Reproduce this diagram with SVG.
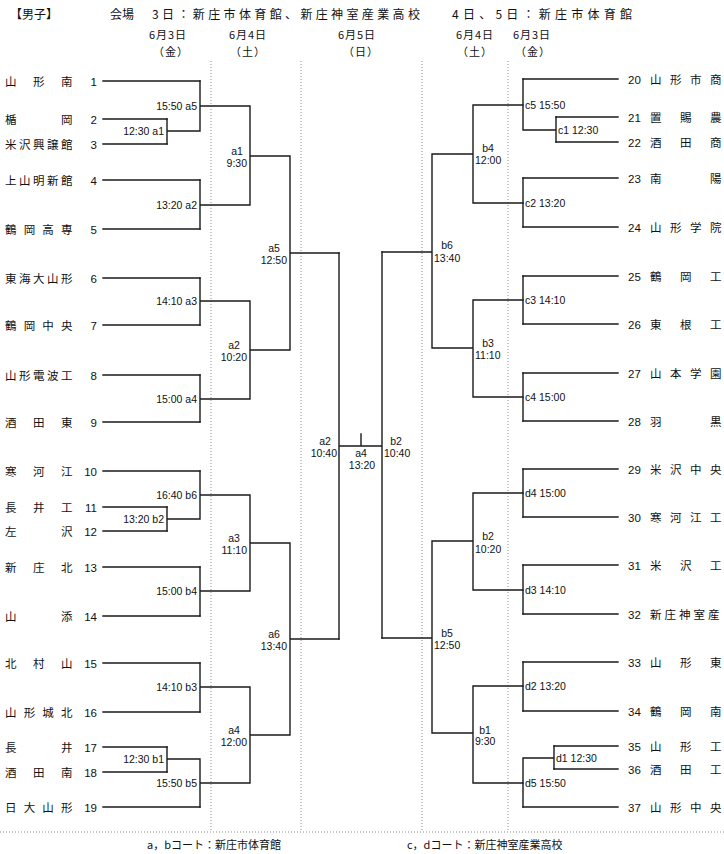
<svg xmlns="http://www.w3.org/2000/svg" width="724" height="854" viewBox="0 0 724 854">
<style>
.bg{fill:#fff}
.ln{stroke:#1a1a1a;stroke-width:1.4;fill:none;stroke-linecap:square}
.dt{stroke:#8a8a8a;stroke-width:1;stroke-dasharray:1 2;fill:none}
.nm{font-family:"Noto Sans CJK JP","Noto Sans CJK SC",sans-serif;font-size:11.5px;fill:#111}
.no{font-family:"Liberation Sans",sans-serif;font-size:11.5px;fill:#111}
.lb{font-family:"Liberation Sans",sans-serif;font-size:10.5px;fill:#111}
.hd{font-family:"Noto Sans CJK JP","Noto Sans CJK SC",sans-serif;font-size:12px;fill:#111}
.dd{font-family:"Noto Sans CJK JP","Noto Sans CJK SC",sans-serif;font-size:11px;letter-spacing:1px;fill:#111;text-anchor:middle}
.e{text-anchor:end}
.m{text-anchor:middle}
</style>
<rect class="bg" x="0" y="0" width="724" height="854"/>

<g id="header">
<text class="hd" x="10" y="19">【男子】</text>
<text class="hd" x="110" y="19">会場</text>
<text class="hd" x="152" y="19" textLength="268" lengthAdjust="spacing">3日：新庄市体育館、新庄神室産業高校</text>
<text class="hd" x="452" y="19" textLength="180" lengthAdjust="spacing">4日、5日：新庄市体育館</text>
<text class="dd" x="168" y="39">6月3日</text>
<text class="dd" x="171" y="55.5">（金）</text>
<text class="dd" x="248" y="39">6月4日</text>
<text class="dd" x="248" y="55.5">（土）</text>
<text class="dd" x="357" y="39">6月5日</text>
<text class="dd" x="361" y="55.5">（日）</text>
<text class="dd" x="475" y="39">6月4日</text>
<text class="dd" x="475" y="55.5">（土）</text>
<text class="dd" x="532" y="39">6月3日</text>
<text class="dd" x="533" y="55.5">（金）</text>
</g>

<g id="guides">
<path class="dt" d="M211 61V832M301 61V832M422 61V832M508 61V832M0 832H724"/>
</g>

<g id="connectors">
<path class="ln" d="M103 81H200M103 119H167M103 144H167M103 180H200M103 229H200M103 278H200M103 325H200M103 375H200M103 422H200M103 471H200M103 507H167M103 531H167M103 567H200M103 616H200M103 663H200M103 712H200M103 747H167M103 772H167M103 807H200"/>
<path class="ln" d="M167 119V144M167 131H200M200 81V131M200 106H250M200 180V229M200 205H250M250 106V205M250 156H290M200 278V325M200 301H250M200 375V422M200 399H250M250 301V399M250 350H290M290 156V350M290 253H339"/>
<path class="ln" d="M167 507V531M167 519H200M200 471V519M200 495H250M200 567V616M200 591H250M250 495V591M250 543H290M200 663V712M200 687H250M167 747V772M167 759H200M200 759V807M200 783H250M250 687V783M250 735H290M290 543V735M290 639H339"/>
<path class="ln" d="M339 253V639M339 446H382M361 434V446M382 252V638"/>
<path class="ln" d="M382 252H432M382 638H432M432 154V348M432 541V733M432 154H473M432 348H473M432 541H473M432 733H473M473 105V203M473 300V397M473 493V590M473 686V783M473 105H523M473 203H523M473 300H523M473 397H523M473 493H523M473 590H523M473 686H523M473 783H523"/>
<path class="ln" d="M523 79V130M523 178V227M523 276V324M523 373V421M523 469V517M523 565V614M523 662V711M523 758V807M523 130H556M556 117V142M523 758H554M554 746V769"/>
<path class="ln" d="M523 79H618M556 117H618M556 142H618M523 178H618M523 227H618M523 276H618M523 324H618M523 373H618M523 421H618M523 469H618M523 517H618M523 565H618M523 614H618M523 662H618M523 711H618M554 746H618M554 769H618M523 807H618"/>
</g>

<g id="team-1"><text class="nm" x="5 33 61" y="85.5">山形南</text><text class="no e" x="97" y="85.5">1</text></g>
<g id="team-2"><text class="nm" x="5 61" y="123.5">楯岡</text><text class="no e" x="97" y="123.5">2</text></g>
<g id="team-3"><text class="nm" x="5 19 33 47 61" y="148.5">米沢興譲館</text><text class="no e" x="97" y="148.5">3</text></g>
<g id="team-4"><text class="nm" x="5 19 33 47 61" y="184.5">上山明新館</text><text class="no e" x="97" y="184.5">4</text></g>
<g id="team-5"><text class="nm" x="5 23.7 42.3 61" y="233.5">鶴岡高専</text><text class="no e" x="97" y="233.5">5</text></g>
<g id="team-6"><text class="nm" x="5 19 33 47 61" y="282.5">東海大山形</text><text class="no e" x="97" y="282.5">6</text></g>
<g id="team-7"><text class="nm" x="5 23.7 42.3 61" y="329.5">鶴岡中央</text><text class="no e" x="97" y="329.5">7</text></g>
<g id="team-8"><text class="nm" x="5 19 33 47 61" y="379.5">山形電波工</text><text class="no e" x="97" y="379.5">8</text></g>
<g id="team-9"><text class="nm" x="5 33 61" y="426.5">酒田東</text><text class="no e" x="97" y="426.5">9</text></g>
<g id="team-10"><text class="nm" x="5 33 61" y="475.5">寒河江</text><text class="no e" x="97" y="475.5">10</text></g>
<g id="team-11"><text class="nm" x="5 33 61" y="511.5">長井工</text><text class="no e" x="97" y="511.5">11</text></g>
<g id="team-12"><text class="nm" x="5 61" y="535.5">左沢</text><text class="no e" x="97" y="535.5">12</text></g>
<g id="team-13"><text class="nm" x="5 33 61" y="571.5">新庄北</text><text class="no e" x="97" y="571.5">13</text></g>
<g id="team-14"><text class="nm" x="5 61" y="620.5">山添</text><text class="no e" x="97" y="620.5">14</text></g>
<g id="team-15"><text class="nm" x="5 33 61" y="667.5">北村山</text><text class="no e" x="97" y="667.5">15</text></g>
<g id="team-16"><text class="nm" x="5 23.7 42.3 61" y="716.5">山形城北</text><text class="no e" x="97" y="716.5">16</text></g>
<g id="team-17"><text class="nm" x="5 61" y="751.5">長井</text><text class="no e" x="97" y="751.5">17</text></g>
<g id="team-18"><text class="nm" x="5 33 61" y="776.5">酒田南</text><text class="no e" x="97" y="776.5">18</text></g>
<g id="team-19"><text class="nm" x="5 23.7 42.3 61" y="811.5">日大山形</text><text class="no e" x="97" y="811.5">19</text></g>

<g id="team-20"><text class="no" x="628" y="83.5">20</text><text class="nm" x="650 670 690 710" y="83.5">山形市商</text></g>
<g id="team-21"><text class="no" x="628" y="121.5">21</text><text class="nm" x="650 680 710" y="121.5">置賜農</text></g>
<g id="team-22"><text class="no" x="628" y="146.5">22</text><text class="nm" x="650 680 710" y="146.5">酒田商</text></g>
<g id="team-23"><text class="no" x="628" y="182.5">23</text><text class="nm" x="650 710" y="182.5">南陽</text></g>
<g id="team-24"><text class="no" x="628" y="231.5">24</text><text class="nm" x="650 670 690 710" y="231.5">山形学院</text></g>
<g id="team-25"><text class="no" x="628" y="280.5">25</text><text class="nm" x="650 680 710" y="280.5">鶴岡工</text></g>
<g id="team-26"><text class="no" x="628" y="328.5">26</text><text class="nm" x="650 680 710" y="328.5">東根工</text></g>
<g id="team-27"><text class="no" x="628" y="377.5">27</text><text class="nm" x="650 670 690 710" y="377.5">山本学園</text></g>
<g id="team-28"><text class="no" x="628" y="425.5">28</text><text class="nm" x="650 710" y="425.5">羽黒</text></g>
<g id="team-29"><text class="no" x="628" y="473.5">29</text><text class="nm" x="650 670 690 710" y="473.5">米沢中央</text></g>
<g id="team-30"><text class="no" x="628" y="521.5">30</text><text class="nm" x="650 670 690 710" y="521.5">寒河江工</text></g>
<g id="team-31"><text class="no" x="628" y="569.5">31</text><text class="nm" x="650 680 710" y="569.5">米沢工</text></g>
<g id="team-32"><text class="no" x="628" y="618.5">32</text><text class="nm" x="650 664.5 679 693.5 708" y="618.5">新庄神室産</text></g>
<g id="team-33"><text class="no" x="628" y="666.5">33</text><text class="nm" x="650 680 710" y="666.5">山形東</text></g>
<g id="team-34"><text class="no" x="628" y="715.5">34</text><text class="nm" x="650 680 710" y="715.5">鶴岡南</text></g>
<g id="team-35"><text class="no" x="628" y="750.5">35</text><text class="nm" x="650 680 710" y="750.5">山形工</text></g>
<g id="team-36"><text class="no" x="628" y="773.5">36</text><text class="nm" x="650 680 710" y="773.5">酒田工</text></g>
<g id="team-37"><text class="no" x="628" y="811.5">37</text><text class="nm" x="650 670 690 710" y="811.5">山形中央</text></g>

<g id="match-L3-a5"><text class="lb e" x="197" y="110">15:50 a5</text></g>
<g id="match-L3-a1"><text class="lb e" x="164" y="135">12:30 a1</text></g>
<g id="match-L3-a2"><text class="lb e" x="197" y="209">13:20 a2</text></g>
<g id="match-L3-a3"><text class="lb e" x="197" y="305">14:10 a3</text></g>
<g id="match-L3-a4"><text class="lb e" x="197" y="403">15:00 a4</text></g>
<g id="match-L3-b6"><text class="lb e" x="197" y="499">16:40 b6</text></g>
<g id="match-L3-b2"><text class="lb e" x="164" y="523">13:20 b2</text></g>
<g id="match-L3-b4"><text class="lb e" x="197" y="595">15:00 b4</text></g>
<g id="match-L3-b3"><text class="lb e" x="197" y="691">14:10 b3</text></g>
<g id="match-L3-b1"><text class="lb e" x="164" y="763">12:30 b1</text></g>
<g id="match-L3-b5"><text class="lb e" x="197" y="787">15:50 b5</text></g>

<g id="match-L4-a1"><text class="lb m" x="237" y="155">a1</text><text class="lb e" x="247" y="167">9:30</text></g>
<g id="match-L4-a2"><text class="lb m" x="234" y="349">a2</text><text class="lb e" x="247" y="361">10:20</text></g>
<g id="match-L4-a3"><text class="lb m" x="234" y="542">a3</text><text class="lb e" x="247" y="554">11:10</text></g>
<g id="match-L4-a4"><text class="lb m" x="234" y="734">a4</text><text class="lb e" x="247" y="746">12:00</text></g>
<g id="match-L5-a5"><text class="lb m" x="274" y="252">a5</text><text class="lb e" x="287" y="264">12:50</text></g>
<g id="match-L5-a6"><text class="lb m" x="274" y="638">a6</text><text class="lb e" x="287" y="650">13:40</text></g>

<g id="match-SF-a2"><text class="lb m" x="325" y="445">a2</text><text class="lb e" x="337" y="457">10:40</text></g>
<g id="match-F-a4"><text class="lb m" x="361" y="457">a4</text><text class="lb m" x="362" y="469">13:20</text></g>
<g id="match-SF-b2"><text class="lb m" x="396" y="445">b2</text><text class="lb" x="384" y="457">10:40</text></g>

<g id="match-R5-b6"><text class="lb m" x="447" y="249">b6</text><text class="lb" x="434" y="262">13:40</text></g>
<g id="match-R5-b5"><text class="lb m" x="447" y="637">b5</text><text class="lb" x="434" y="649">12:50</text></g>
<g id="match-R4-b4"><text class="lb m" x="488" y="152">b4</text><text class="lb" x="475" y="164">12:00</text></g>
<g id="match-R4-b3"><text class="lb m" x="488" y="347">b3</text><text class="lb" x="475" y="359">11:10</text></g>
<g id="match-R4-b2"><text class="lb m" x="488" y="540">b2</text><text class="lb" x="475" y="553">10:20</text></g>
<g id="match-R4-b1"><text class="lb m" x="485" y="734">b1</text><text class="lb" x="475" y="745">9:30</text></g>

<g id="match-R3-c5"><text class="lb" x="525" y="109">c5 15:50</text></g>
<g id="match-R3-c1"><text class="lb" x="558" y="134">c1 12:30</text></g>
<g id="match-R3-c2"><text class="lb" x="525" y="207">c2 13:20</text></g>
<g id="match-R3-c3"><text class="lb" x="525" y="304">c3 14:10</text></g>
<g id="match-R3-c4"><text class="lb" x="525" y="401">c4 15:00</text></g>
<g id="match-R3-d4"><text class="lb" x="525" y="497">d4 15:00</text></g>
<g id="match-R3-d3"><text class="lb" x="525" y="594">d3 14:10</text></g>
<g id="match-R3-d2"><text class="lb" x="525" y="690">d2 13:20</text></g>
<g id="match-R3-d1"><text class="lb" x="556" y="762">d1 12:30</text></g>
<g id="match-R3-d5"><text class="lb" x="525" y="787">d5 15:50</text></g>

<g id="footer">
<text class="hd" x="147" y="849" style="font-size:11px">a，bコート：新庄市体育館</text>
<text class="hd" x="407" y="849" style="font-size:11px">c，dコート：新庄神室産業高校</text>
</g>
</svg>
